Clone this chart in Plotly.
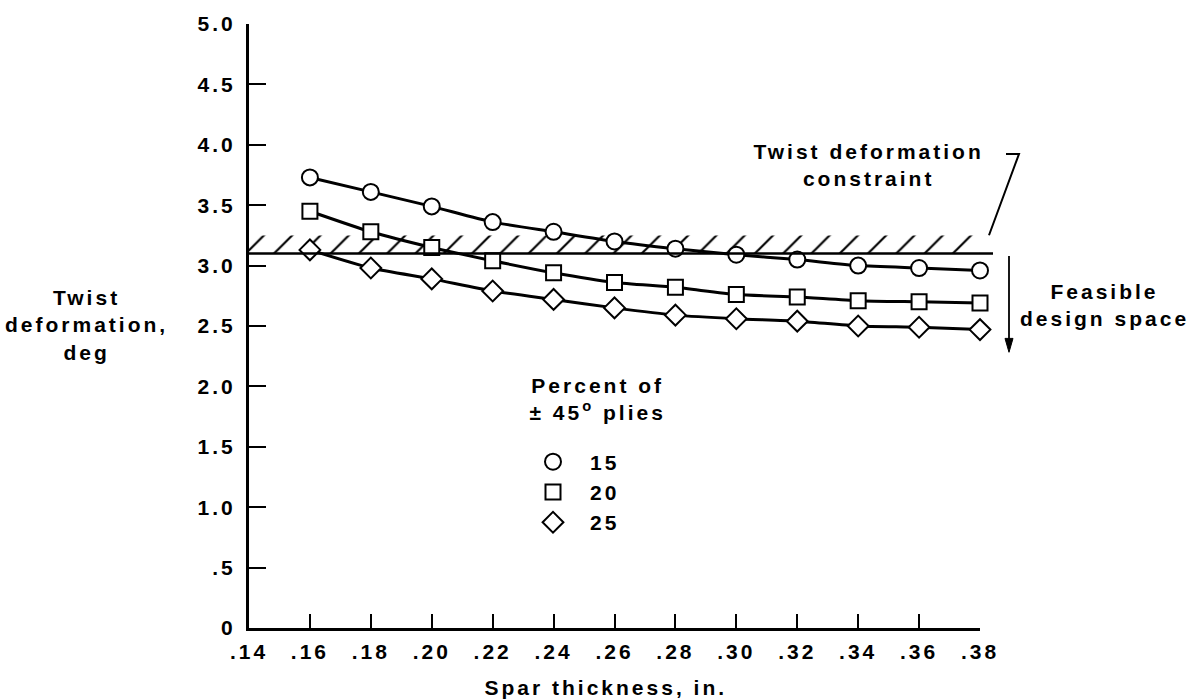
import plotly.graph_objects as go

# ---- data ----
spar_thickness = [0.16, 0.18, 0.20, 0.22, 0.24, 0.26, 0.28, 0.30, 0.32, 0.34, 0.36, 0.38]
twist_15 = [3.73, 3.61, 3.49, 3.36, 3.28, 3.20, 3.14, 3.09, 3.05, 3.00, 2.98, 2.96]
twist_20 = [3.45, 3.28, 3.15, 3.04, 2.94, 2.86, 2.82, 2.76, 2.74, 2.71, 2.70, 2.69]
twist_25 = [3.13, 2.98, 2.89, 2.79, 2.72, 2.65, 2.59, 2.56, 2.54, 2.50, 2.49, 2.47]
series_names = ["15", "20", "25"]
series_symbols = ["circle", "square", "diamond"]

constraint_value = 3.10
hatch_top = 3.25

x_tickvals = [0.14, 0.16, 0.18, 0.20, 0.22, 0.24, 0.26, 0.28, 0.30, 0.32, 0.34, 0.36, 0.38]
x_ticktext = [".14", ".16", ".18", ".20", ".22", ".24", ".26", ".28", ".30", ".32", ".34", ".36", ".38"]
y_tickvals = [0, 0.5, 1.0, 1.5, 2.0, 2.5, 3.0, 3.5, 4.0, 4.5, 5.0]
y_ticktext = ["0", ".5", "1.0", "1.5", "2.0", "2.5", "3.0", "3.5", "4.0", "4.5", "5.0"]
x_range = [0.14, 0.38]
y_range = [0, 5.0]

FONT = "Liberation Sans"
FS = 21
BLACK = "black"

fig = go.Figure()

# hatched constraint band
fig.add_trace(go.Scatter(
    x=[x_range[0], x_range[1], x_range[1], x_range[0], x_range[0]],
    y=[constraint_value, constraint_value, hatch_top, hatch_top, constraint_value],
    mode="lines", fill="toself", line=dict(width=0),
    fillcolor="rgba(0,0,0,0)",
    fillpattern=dict(shape="/", fgcolor=BLACK, fgopacity=1, bgcolor="rgba(0,0,0,0)",
                     size=20, solidity=0.11),
    showlegend=False, hoverinfo="skip",
))

marker_sizes = [16, 15, 16]
for vals, name, sym, ms in zip([twist_15, twist_20, twist_25], series_names, series_symbols, marker_sizes):
    fig.add_trace(go.Scatter(
        x=spar_thickness, y=vals, mode="lines+markers", name=name,
        line=dict(color=BLACK, width=3, shape="spline", smoothing=0.6),
        marker=dict(symbol=sym, size=ms, color="white", line=dict(color=BLACK, width=2)),
        cliponaxis=False, showlegend=False,
    ))
    fig.add_trace(go.Scatter(
        x=[None], y=[None], mode="markers", name=name,
        marker=dict(symbol=sym, size=ms, color="white", line=dict(color=BLACK, width=2)),
        showlegend=True,
    ))

L, R, T, B = 249, 215, 19, 71
W, H = 1195, 699
pw = W - L - R
ph = H - T - B


def px(xp):
    return (xp - L) / pw


def py(yp):
    return (H - B - yp) / ph


font = dict(family=FONT, size=FS, color=BLACK, weight="bold")

fig.update_layout(
    width=W, height=H, autosize=False,
    margin=dict(l=L, r=R, t=T, b=B, pad=0),
    paper_bgcolor="white", plot_bgcolor="white",
    font=font,
    showlegend=True,
    legend=dict(x=px(516), y=py(440), xanchor="left", yanchor="top",
                bgcolor="rgba(0,0,0,0)", borderwidth=0, itemwidth=64,
                font=font, tracegroupgap=0),
    xaxis=dict(range=x_range, tickvals=x_tickvals, ticktext=x_ticktext,
               showgrid=False, zeroline=False, showline=True, linecolor=BLACK, linewidth=3,
               ticks="inside", ticklen=14, tickwidth=2, tickcolor=BLACK,
               tickfont=font, ticklabelstandoff=3),
    yaxis=dict(range=y_range, tickvals=y_tickvals, ticktext=y_ticktext,
               showgrid=False, zeroline=False, showline=True, linecolor=BLACK, linewidth=3,
               ticks="inside", ticklen=17, tickwidth=2, tickcolor=BLACK,
               tickfont=font, ticklabelstandoff=6),
)

# constraint line and leader
fig.add_shape(type="line", xref="paper", yref="paper",
              x0=0, x1=px(993), y0=constraint_value / y_range[1], y1=constraint_value / y_range[1],
              line=dict(color=BLACK, width=2.5))
fig.add_shape(type="path", xref="paper", yref="paper",
              path=f"M {px(1006)},{py(150)} L {px(1019)},{py(150)} L {px(989)},{py(232)}",
              line=dict(color=BLACK, width=2))
# feasible arrow (shaft + head)
fig.add_shape(type="line", xref="paper", yref="paper",
              x0=px(1009), x1=px(1009), y0=py(253), y1=py(342),
              line=dict(color=BLACK, width=1.8))
fig.add_shape(type="path", xref="paper", yref="paper",
              path=f"M {px(1005)},{py(336)} L {px(1013)},{py(336)} L {px(1009)},{py(350)} Z",
              fillcolor=BLACK, line=dict(color=BLACK, width=1))

annots = [
    dict(text="Twist deformation<br>constraint", x=px(868), y=py(161)),
    dict(text="Feasible<br>design space", x=px(1104), y=py(302)),
    dict(text="Twist<br>deformation,<br>deg", x=px(86), y=py(322)),
    dict(text="Spar thickness, in.", x=px(606), y=py(688)),
    dict(text="Percent of<br>± 45<sup>o</sup> plies", x=px(598), y=py(397)),
]
for a in annots:
    fig.add_annotation(xref="paper", yref="paper", showarrow=False, align="center",
                       xanchor="center", yanchor="middle", font=font, **a)

post = ("var s=document.createElement('style');"
        "s.textContent='body{margin:0;overflow:hidden} .main-svg text{letter-spacing:3px}';"
        "document.head.appendChild(s);")
fig.write_html("out.html", post_script=post, config={"displayModeBar": False})
